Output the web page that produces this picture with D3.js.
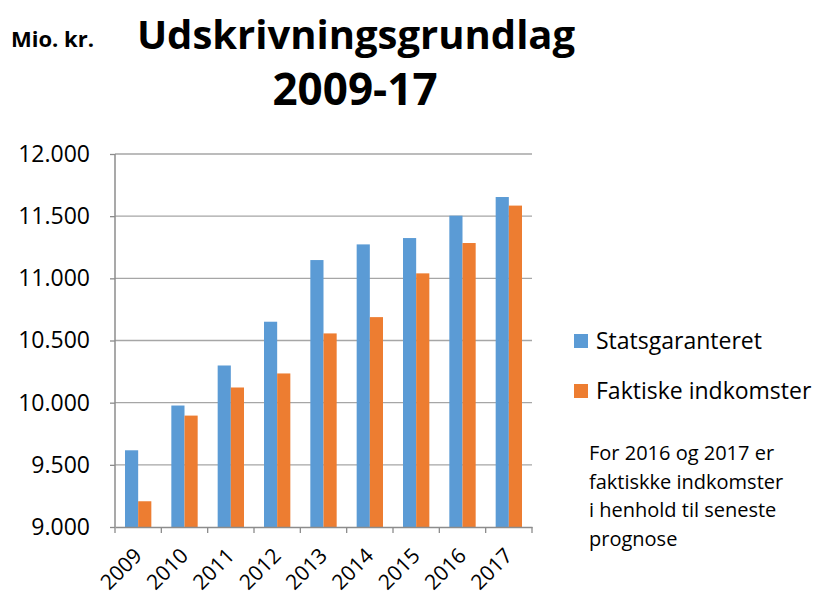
<!DOCTYPE html>
<meta charset="utf-8">
<head>
    <title>Udskrivningsgrundlag 2009-17</title>
    <script src="https://cdn.jsdelivr.net/npm/d3@7"></script>
    <style>
        body { margin: 0; background: #fff; }
        text { font-family: "Open Sans", "Noto Sans", sans-serif; fill: #000; }
    </style>
</head>
<body>
<script>
    // data (mio. kr.)
    var years = ["2009", "2010", "2011", "2012", "2013", "2014", "2015", "2016", "2017"];
    var statsgaranteret = [9617, 9977, 10299, 10651, 11147, 11273, 11324, 11504, 11654];
    var faktiske = [9207, 9896, 10122, 10235, 10557, 10688, 11040, 11284, 11585];
    var seriesNames = ["Statsgaranteret", "Faktiske indkomster"];
    var yTicks = [9000, 9500, 10000, 10500, 11000, 11500, 12000];
    var noteLines = ["For 2016 og 2017 er", "faktiskke indkomster", "i henhold til seneste", "prognose"];

    var colors = ["#5B9BD5", "#ED7D31"];
    var width = 816, height = 596;
    var margin = {top: 154, right: 284, bottom: 69, left: 115};
    var plotW = width - margin.left - margin.right;
    var plotH = height - margin.top - margin.bottom;

    var svg = d3.select("body").append("svg")
        .attr("width", width)
        .attr("height", height);

    // titles
    svg.append("text")
        .attr("x", 11).attr("y", 47)
        .style("font-size", "22px").style("font-weight", "bold")
        .text("Mio. kr.");
    svg.append("text")
        .attr("x", 356).attr("y", 49)
        .attr("text-anchor", "middle")
        .style("font-size", "40px").style("font-weight", "bold")
        .text("Udskrivningsgrundlag");
    svg.append("text")
        .attr("x", 355).attr("y", 105)
        .attr("text-anchor", "middle")
        .style("font-size", "44px").style("font-weight", "bold")
        .text("2009-17");

    var g = svg.append("g")
        .attr("transform", `translate(${margin.left},${margin.top})`);

    var x = d3.scaleBand().domain(years).range([0, plotW]).paddingInner(0).paddingOuter(0);
    var x1 = d3.scaleBand().domain([0, 1]).range([10, x.bandwidth() - 10]);
    var y = d3.scaleLinear().domain([9000, 12000]).range([plotH, 0]);

    // gridlines
    g.selectAll(".grid").data(yTicks.slice(1)).enter().append("line")
        .attr("x1", 0).attr("x2", plotW)
        .attr("y1", d => y(d)).attr("y2", d => y(d))
        .style("stroke", "#a6a6a6").style("stroke-width", 1.3);

    // bars
    var data = years.map((yr, i) => ({year: yr, vals: [statsgaranteret[i], faktiske[i]]}));
    var groups = g.selectAll(".yr").data(data).enter().append("g")
        .attr("transform", d => `translate(${x(d.year)},0)`);
    groups.selectAll("rect").data(d => d.vals).enter().append("rect")
        .attr("x", (d, i) => x1(i))
        .attr("width", x1.bandwidth())
        .attr("y", d => y(d))
        .attr("height", d => plotH - y(d))
        .style("fill", (d, i) => colors[i]);

    // y axis
    var yAxis = g.append("g")
        .call(d3.axisLeft(y).tickValues(yTicks).tickSize(5).tickPadding(20)
            .tickFormat(d => d3.format(",")(d).replace(/,/g, ".")));
    yAxis.select(".domain").style("stroke", "#8c8c8c").style("stroke-width", 1.5).attr("d", `M0,0V${plotH}`);
    yAxis.selectAll(".tick line").style("stroke", "#8c8c8c").style("stroke-width", 1.3);
    yAxis.selectAll(".tick text").style("font-size", "23px");

    // x axis
    var xAxis = g.append("g")
        .attr("transform", `translate(0,${plotH})`)
        .call(d3.axisBottom(x).tickSize(0).tickPadding(10));
    xAxis.select(".domain").style("stroke", "#8c8c8c").style("stroke-width", 1.5);
    xAxis.selectAll(".tick text")
        .style("font-size", "21px")
        .attr("text-anchor", "end")
        .attr("x", 0).attr("y", 0).attr("dy", 0)
        .attr("transform", "translate(5,30) rotate(-45)");
    // category separator ticks
    xAxis.selectAll(".sep").data(years.concat(["end"])).enter().append("line")
        .attr("x1", (d, i) => i * x.bandwidth()).attr("x2", (d, i) => i * x.bandwidth())
        .attr("y1", 0).attr("y2", 6)
        .style("stroke", "#8c8c8c").style("stroke-width", 1.3);

    // legend
    var legend = svg.append("g").attr("transform", "translate(574,334)");
    seriesNames.forEach(function(name, i) {
        legend.append("rect")
            .attr("x", 0).attr("y", i * 50)
            .attr("width", 14).attr("height", 14)
            .style("fill", colors[i]);
        legend.append("text")
            .attr("x", 22).attr("y", i * 50 + 15)
            .style("font-size", "23px")
            .text(name);
    });

    // note
    svg.append("g").selectAll("text").data(noteLines).enter().append("text")
        .attr("x", 589)
        .attr("y", (d, i) => 460 + i * 28.5)
        .style("font-size", "20px")
        .text(d => d);
</script>
</body>
</html>
